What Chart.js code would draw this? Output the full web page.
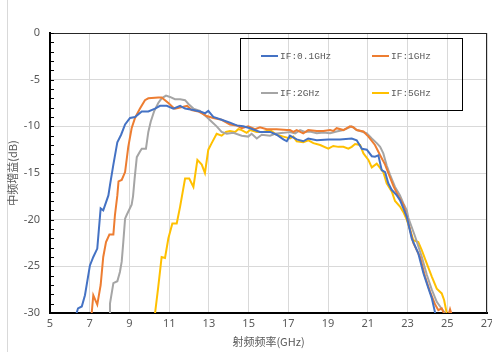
<!DOCTYPE html>
<html>
<head>
<meta charset="utf-8">
<script src="https://cdn.jsdelivr.net/npm/chart.js@4.4.1/dist/chart.umd.min.js"></script>
<style>
  html, body { margin: 0; padding: 0; background: #fff; }
  #wrap { width: 492px; height: 352px; }
</style>
</head>
<body>
<div id="wrap"><canvas id="chart" width="492" height="352"></canvas></div>
<script>
// series names / colours
const seriesNames = ["IF:0.1GHz", "IF:1GHz", "IF:2GHz", "IF:5GHz"];
const seriesColors = ["#4472C4", "#ED7D31", "#A5A5A5", "#FFC000"];

// axis ranges (GHz / dB)
const xMin = 5, xMax = 27, xStep = 2;
const yMin = -30, yMax = 0, yStep = 5;

// [RF GHz, gain dB]
const if01 = [[6.34,-30],[6.41,-29.5],[6.6,-29.3],[6.76,-28.1],[7.01,-24.9],[7.18,-24.0],[7.38,-23.1],[7.55,-18.8],[7.68,-19.0],[7.94,-17.4],[8.02,-16.3],[8.19,-14.1],[8.39,-11.7],[8.58,-10.9],[8.78,-9.8],[9.03,-9.1],[9.28,-9.0],[9.62,-8.4],[9.95,-8.4],[10.29,-8.1],[10.54,-7.8],[10.88,-7.8],[11.21,-8.1],[11.55,-7.8],[11.8,-8.1],[12.22,-8.25],[12.55,-8.4],[12.8,-8.6],[12.97,-8.35],[13.22,-9.0],[13.64,-9.3],[14.06,-9.6],[14.4,-9.9],[14.73,-10.0],[15.07,-10.2],[15.57,-10.6],[16.08,-10.6],[16.41,-10.9],[16.75,-11.4],[16.92,-11.6],[17.08,-11.0],[17.42,-11.4],[17.75,-11.6],[18.0,-11.3],[18.43,-11.5],[19.01,-11.4],[19.6,-11.4],[20.19,-11.3],[20.44,-11.5],[20.7,-12.4],[20.95,-12.5],[21.2,-13.2],[21.36,-13.25],[21.53,-13.1],[21.7,-14.7],[21.87,-14.9],[22.03,-16.1],[22.2,-16.8],[22.46,-17.4],[22.62,-17.9],[22.79,-18.8],[22.96,-19.7],[23.21,-22.0],[23.54,-23.6],[23.8,-25.75],[24.05,-27.35],[24.22,-28.4],[24.39,-30]];
const if1 = [[7.1,-30],[7.18,-28.1],[7.38,-29.1],[7.55,-27.0],[7.68,-24.0],[7.82,-22.4],[7.99,-21.6],[8.19,-21.6],[8.27,-19.5],[8.39,-17.4],[8.45,-15.9],[8.61,-15.75],[8.78,-14.9],[8.94,-12.2],[9.11,-10.2],[9.28,-9.1],[9.53,-8.1],[9.78,-7.2],[9.95,-7.0],[10.45,-6.9],[10.62,-6.9],[10.96,-7.5],[11.21,-8.0],[11.29,-8.1],[11.71,-7.9],[11.9,-7.8],[12.13,-8.25],[12.47,-8.4],[12.89,-8.9],[13.22,-9.1],[13.64,-9.3],[14.06,-9.8],[14.4,-9.9],[14.65,-10.2],[14.98,-10.0],[15.32,-10.3],[15.57,-10.1],[15.91,-10.3],[16.41,-10.3],[16.92,-10.4],[17.08,-10.4],[17.25,-10.6],[17.42,-10.4],[17.75,-10.75],[18.0,-10.4],[18.43,-10.5],[18.76,-10.5],[19.1,-10.4],[19.26,-10.5],[19.43,-10.2],[19.77,-10.4],[20.1,-10.0],[20.27,-10.1],[20.44,-10.4],[20.78,-10.55],[21.03,-11.1],[21.36,-12.0],[21.62,-13.1],[21.87,-14.1],[22.03,-15.0],[22.29,-16.4],[22.54,-17.5],[22.79,-18.4],[22.96,-19.7],[23.29,-22.5],[23.63,-24.0],[23.88,-26.1],[24.13,-27.7],[24.39,-29.1],[24.55,-29.7],[24.72,-29.5],[24.89,-30.3],[25.05,-30.3],[25.14,-29.6],[25.24,-30.3]];
const if2 = [[7.99,-30],[8.02,-29.0],[8.19,-26.8],[8.39,-26.6],[8.52,-25.6],[8.61,-24.5],[8.69,-22.4],[8.78,-19.9],[8.86,-19.5],[9.11,-18.4],[9.18,-17.5],[9.26,-15.6],[9.37,-13.3],[9.53,-12.7],[9.62,-12.4],[9.83,-12.4],[9.95,-10.6],[10.07,-9.5],[10.24,-8.4],[10.45,-7.5],[10.62,-7.0],[10.84,-6.7],[11.04,-6.85],[11.29,-7.1],[11.55,-7.1],[11.8,-7.2],[11.97,-7.6],[12.22,-8.1],[12.55,-8.35],[12.89,-9.0],[13.14,-9.5],[13.39,-10.0],[13.64,-10.6],[13.9,-10.8],[14.23,-10.7],[14.65,-11.0],[14.98,-11.1],[15.15,-10.8],[15.41,-11.3],[15.66,-10.9],[16.08,-11.0],[16.33,-10.8],[16.75,-10.7],[17.08,-10.6],[17.34,-10.75],[17.59,-10.4],[17.84,-10.6],[18.09,-10.55],[18.43,-10.75],[18.76,-10.65],[19.1,-10.75],[19.43,-10.55],[19.77,-10.4],[20.19,-10.0],[20.44,-10.4],[20.69,-10.55],[20.95,-10.75],[21.2,-11.3],[21.45,-11.8],[21.62,-12.2],[21.78,-12.9],[21.95,-14.2],[22.12,-15.2],[22.37,-16.5],[22.62,-17.4],[22.79,-18.25],[22.96,-19.0],[23.04,-19.8],[23.38,-21.8],[23.72,-24.0],[23.97,-25.9],[24.22,-27.5],[24.47,-28.8],[24.64,-29.3],[24.77,-29.7],[24.89,-30]];
const if5 = [[10.29,-30],[10.45,-27.2],[10.62,-24.0],[10.79,-24.1],[10.96,-22.0],[11.16,-20.4],[11.38,-20.4],[11.55,-18.6],[11.8,-15.6],[12.01,-15.6],[12.22,-16.5],[12.42,-13.6],[12.64,-14.1],[12.8,-15.0],[12.97,-12.5],[13.14,-11.8],[13.39,-10.8],[13.64,-11.0],[13.86,-10.6],[14.06,-10.5],[14.32,-10.6],[14.48,-10.3],[14.65,-10.4],[14.9,-10.7],[15.07,-10.4],[15.41,-10.6],[15.74,-10.6],[16.08,-10.4],[16.41,-10.9],[16.75,-11.1],[17.08,-11.3],[17.25,-11.1],[17.42,-11.6],[17.75,-11.7],[18.01,-11.5],[18.26,-11.8],[18.6,-12.0],[19.01,-12.4],[19.26,-12.1],[19.52,-12.2],[19.77,-12.2],[20.02,-12.4],[20.19,-12.2],[20.36,-11.9],[20.61,-12.0],[20.78,-12.9],[21.03,-13.6],[21.2,-14.4],[21.45,-14.0],[21.78,-14.9],[21.95,-16.1],[22.21,-17.0],[22.37,-18.0],[22.62,-18.6],[22.79,-19.2],[22.96,-20.0],[23.13,-21.1],[23.29,-22.2],[23.54,-22.4],[23.72,-23.3],[23.97,-24.7],[24.22,-26.1],[24.47,-27.4],[24.72,-27.9],[24.84,-28.6],[24.97,-30]];

const seriesData = [if01, if1, if2, if5];

const tickColor = "#595959";
const gridColor = "#d9d9d9";

// frame, inward minor ticks, outer border and boxed legend
const extrasPlugin = {
  id: "extras",
  beforeDraw(chart) {
    const ctx = chart.ctx;
    ctx.save();
    ctx.strokeStyle = gridColor;
    ctx.lineWidth = 1;
    ctx.beginPath();
    ctx.moveTo(7.5, 0);
    ctx.lineTo(7.5, chart.height);
    ctx.stroke();
    ctx.restore();
  },
  afterDraw(chart) {
    const { ctx, chartArea: a, scales } = chart;
    ctx.save();
    ctx.strokeStyle = "#262626";
    ctx.lineWidth = 1;
    ctx.beginPath();
    ctx.moveTo(a.left, a.top + 0.5);
    ctx.lineTo(a.right, a.top + 0.5);
    ctx.moveTo(a.right - 0.5, a.top);
    ctx.lineTo(a.right - 0.5, a.bottom);
    ctx.stroke();

    // minor ticks every 1 dB, pointing into the plot
    ctx.strokeStyle = "#000";
    ctx.beginPath();
    for (let v = yMin; v <= yMax; v++) {
      const y = Math.round(scales.y.getPixelForValue(v)) + 0.5;
      ctx.moveTo(a.left, y);
      ctx.lineTo(a.left + 4, y);
    }
    ctx.stroke();

    // legend box
    const bx = 240.5, by = 38.5, bw = 222, bh = 72;
    ctx.strokeStyle = "#000";
    ctx.strokeRect(bx, by, bw, bh);
    const colX = [261, 372];
    const rowY = [56, 93];
    ctx.font = "9.5px 'Liberation Mono', monospace";
    ctx.fillStyle = tickColor;
    ctx.textBaseline = "middle";
    chart.data.datasets.forEach((ds, i) => {
      const x = colX[i % 2], y = rowY[Math.floor(i / 2)];
      ctx.strokeStyle = ds.borderColor;
      ctx.lineWidth = 2;
      ctx.beginPath();
      ctx.moveTo(x, y);
      ctx.lineTo(x + 17, y);
      ctx.stroke();
      ctx.fillText(ds.label, x + 19, y + 0.5);
    });
    ctx.restore();
  }
};

const ctx = document.getElementById("chart").getContext("2d");
new Chart(ctx, {
  type: "scatter",
  data: {
    datasets: seriesNames.map((name, i) => ({
      label: name,
      data: seriesData[i].map(p => ({ x: p[0], y: p[1] })),
      showLine: true,
      borderColor: seriesColors[i],
      backgroundColor: seriesColors[i],
      borderWidth: 2,
      pointRadius: 0,
      tension: 0,
      clip: 0
    }))
  },
  options: {
    responsive: false,
    animation: false,
    devicePixelRatio: 1,
    layout: { padding: { top: 33, right: 5, left: 0, bottom: 0 } },
    plugins: { legend: { display: false }, tooltip: { enabled: false } },
    scales: {
      x: {
        type: "linear",
        min: xMin,
        max: xMax,
        ticks: {
          stepSize: xStep,
          color: tickColor,
          font: { family: "'Noto Sans', sans-serif", size: 11 },
          padding: 4,
          maxRotation: 0
        },
        grid: { color: gridColor, drawTicks: false },
        border: { color: "#000", width: 2 },
        title: {
          display: true,
          text: "射频频率(GHz)",
          color: tickColor,
          font: { family: "'Noto Sans CJK SC', sans-serif", size: 11 },
          padding: { top: 0, bottom: 4 }
        },
        afterFit(scale) {
          scale.height = 39;
          scale.paddingLeft = 0;
          scale.paddingRight = 0;
        }
      },
      y: {
        min: yMin,
        max: yMax,
        ticks: {
          stepSize: yStep,
          color: tickColor,
          font: { family: "'Noto Sans', sans-serif", size: 11 },
          padding: 10
        },
        grid: { color: gridColor, drawTicks: false },
        border: { color: "#000", width: 2 },
        title: {
          display: true,
          text: "中频增益(dB)",
          color: tickColor,
          font: { family: "'Noto Sans CJK SC', sans-serif", size: 11 },
          padding: { top: 6, bottom: 0 }
        },
        afterFit(scale) {
          scale.width = 50;
        }
      }
    }
  },
  plugins: [extrasPlugin]
});
</script>
</body>
</html>
